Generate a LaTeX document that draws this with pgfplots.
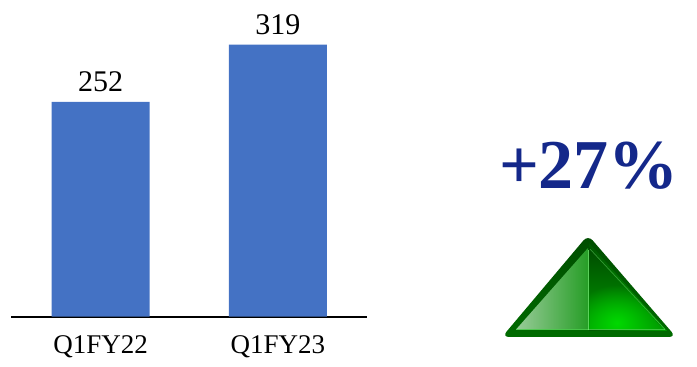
\documentclass[border=0pt]{standalone}
\usepackage{fontspec}
\setmainfont{Liberation Serif}
\usepackage{pgfplots}
\usetikzlibrary{fadings}
\pgfplotsset{compat=1.18}
\definecolor{barblue}{HTML}{4472C4}
\definecolor{headblue}{HTML}{14288A}
\tikzfading[name=glow, inner color=transparent!0, outer color=transparent!100]
\begin{document}
\begin{tikzpicture}[x=1pt,y=1pt]
\useasboundingbox (0,0) rectangle (697,367);
\begin{axis}[
  at={(11.5pt,50.3pt)}, anchor=south west,
  scale only axis, width=355.5pt, height=307pt,
  xmin=-0.503, xmax=1.503, ymin=0, ymax=360,
  axis x line=bottom, axis y line=none,
  every outer x axis line/.append style={black, line width=2pt, -},
  xtick={0,1}, xticklabels={Q1FY22,Q1FY23},
  major tick length=0pt,
  xticklabel style={font=\fontsize{27}{30}\selectfont, yshift=-15pt},
  ybar, bar width=98pt, bar shift=0pt,
  nodes near coords={\fontsize{30}{32}\selectfont\pgfmathprintnumber[assume math mode=true]{\pgfplotspointmeta}},
  every node near coord/.append style={black, yshift=6pt},
  clip=false,
]
\addplot[fill=barblue, draw=none] coordinates {(0,252) (1,319)};
\end{axis}

\node[anchor=base, text=headblue, font=\bfseries\fontsize{70}{72}\selectfont] at (589,178) {+27\%};

% green arrowhead, laid out with y measured downward from the top edge
\begin{scope}[x=1pt,y=-1pt,yshift=367pt]
  % outer bevel
  \path[rounded corners=7pt, top color=green!30!black, bottom color=green!42!black]
     (588,235) -- (676,337) -- (502,337) -- cycle;
  % right bevel, lighter than the left one
  \path[left color=green!35!black, right color=green!60!black]
     (589,243) -- (667,331) -- (589,331) -- cycle;
  % left facet
  \path[left color=green!50!black!40!white, right color=green!55!black!85!white]
     (588,248) -- (588,329.5) -- (516,329.5) -- cycle;
  % right facet with its bright glow near the base
  \begin{scope}
    \clip (589.5,248) -- (664,329.5) -- (589.5,329.5) -- cycle;
    \fill[top color=green!28!black, bottom color=green!62!black] (589,245) rectangle (670,330);
    \fill[green!85!black, path fading=glow] (617,323) ellipse (46 and 38);
  \end{scope}
  % thin highlights along the facet seams
  \draw[green!50!white, opacity=.7, line width=0.7pt] (588.8,250) -- (588.8,329.8);
  \draw[green!55!white, opacity=.55, line width=0.7pt] (516,329.8) -- (665,329.8);
  \draw[green!55!white, opacity=.45, line width=0.7pt] (590,249) -- (665,329.5);
\end{scope}
\end{tikzpicture}
\end{document}
